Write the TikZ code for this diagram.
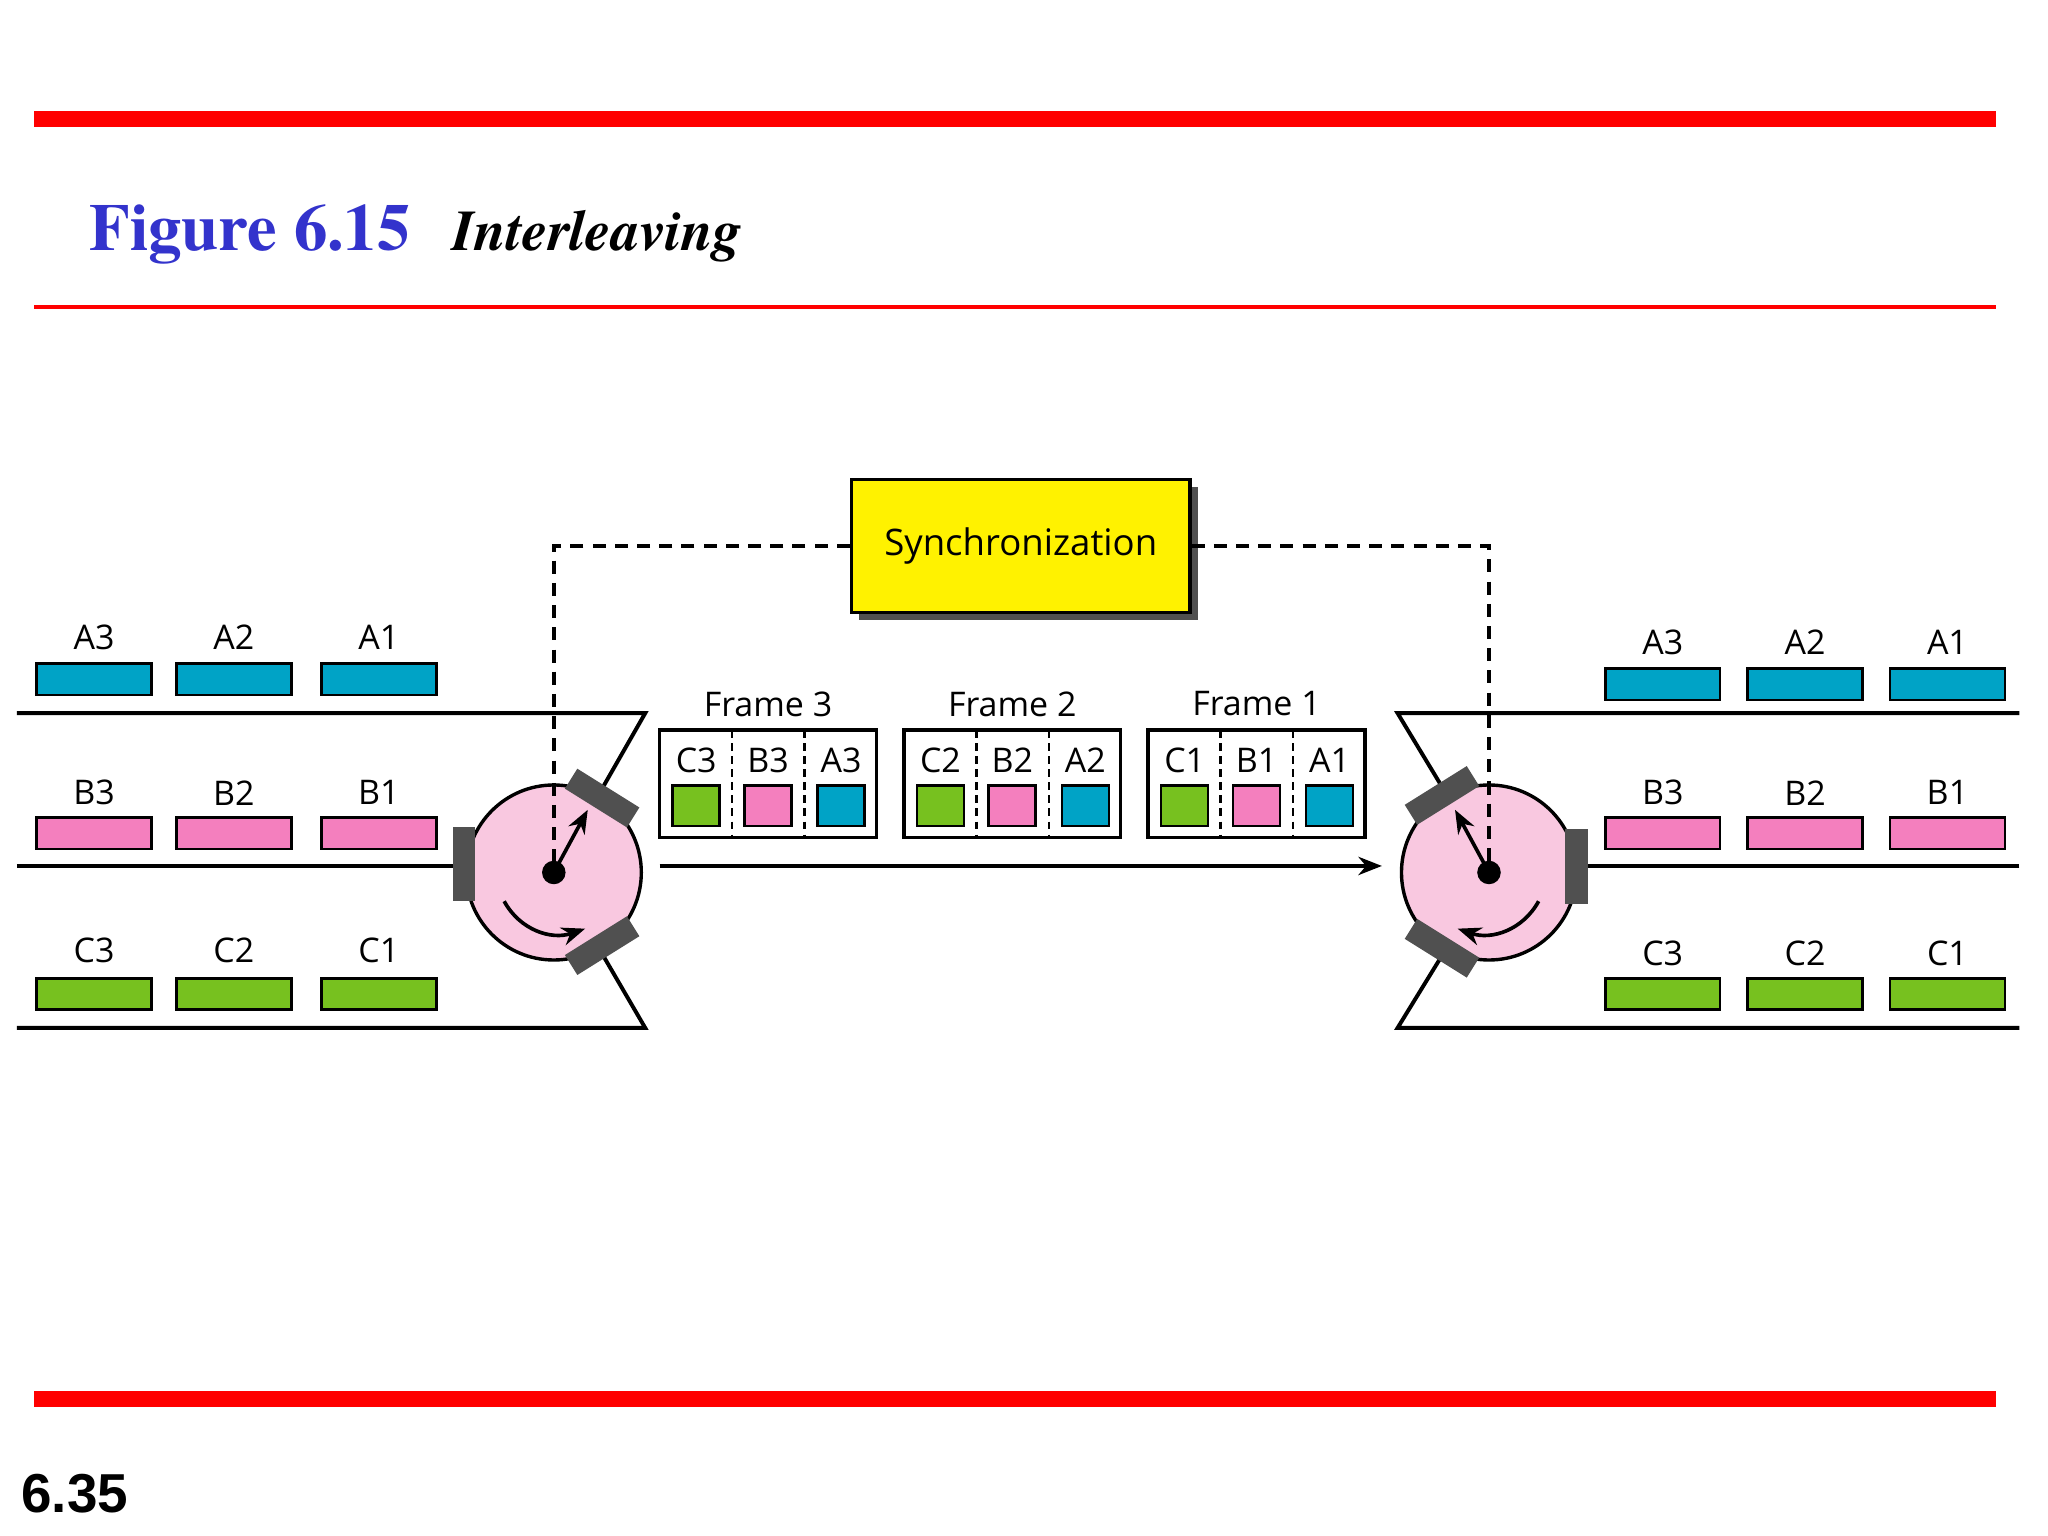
\documentclass[tikz,border=0pt]{standalone}
\usepackage{fontspec}
\setmainfont{TeX Gyre Termes}[]
\newfontfamily\lab{Open Sans}
\newfontfamily\hel{Liberation Sans}
\usetikzlibrary{arrows.meta}
\definecolor{cA}{HTML}{00A3C6}
\definecolor{cB}{HTML}{F47FBE}
\definecolor{cC}{HTML}{77C11F}
\definecolor{disk}{HTML}{F9C8E0}
\definecolor{blk}{HTML}{505050}
\definecolor{tblue}{HTML}{3333CC}
\begin{document}
\begin{tikzpicture}[x=0.5pt,y=-0.5pt,
 bar/.style={draw=black,line width=1pt,minimum width=44pt,minimum height=12pt,inner sep=0},
 lbl/.style={font=\lab\fontsize{13}{13}\selectfont,inner sep=0},
 sq/.style={draw=black,line width=1pt,minimum width=18pt,minimum height=15.5pt,inner sep=0},
 ln/.style={line width=1.5pt},
 dsh/.style={line width=1.5pt,dash pattern=on 5pt off 3.5pt},
 blkst/.style={fill=blk,minimum width=28pt,minimum height=9pt,inner sep=0},
 arr/.style={-{Stealth[length=9pt,width=7pt]},line width=1.4pt}]
\useasboundingbox (0,0) rectangle (1568,1176);
\fill[white] (0,0) rectangle (1568,1176);
% red rules
\fill[red] (26,85) rectangle (1528,97);
\fill[red] (26,233.5) rectangle (1528,236.5);
\fill[red] (26,1065) rectangle (1528,1077);
\node[anchor=base west,inner sep=0,text=tblue,font=\bfseries\fontsize{25.5}{25.5}\selectfont] (fig) at (68,192) {Figure 6.15};
\node[anchor=base west,inner sep=0,font=\bfseries\itshape\fontsize{22}{22}\selectfont] (ttl) at (346,192) {Interleaving};
\node[anchor=base west,inner sep=0,font=\hel\bfseries\fontsize{21}{21}\selectfont] (pg) at (16,1158) {6.35};
% sync
\fill[blk] (658,373) rectangle (917,475);
\node[draw=black,line width=1.3pt,fill=yellow,minimum width=129.5pt,minimum height=51pt,inner sep=0,font=\lab\fontsize{14}{14}\selectfont] (sync) at (781.5,418) {Synchronization};
\coordinate (lc) at (424,668);
\coordinate (rc) at (1140,668);
% left mux
\draw[ln] (13,546) -- (494,546) -- (462,602);
\draw[ln] (13,787) -- (494,787) -- (462,732);
\draw[ln] (13,663) -- (350,663);
\draw[line width=1.3pt,fill=disk] (lc) circle[radius=33.5pt];
\node[fill=blk,minimum width=8.5pt,minimum height=28.5pt,inner sep=0] (lb) at (355.5,661.5) {};
\node[blkst,rotate=-32] (lu) at (461,611) {};
\node[blkst,rotate=32] (ll) at (461,724) {};
\draw[dsh] (sync.west) -- (424,418) -- (lc);
\fill (lc) circle[radius=4.5pt];
\draw[arr] (lc) -- (450,620);
\draw[arr] (386,690) .. controls (398,712) and (422,720) .. (448,711);
% right demux
\draw[ln] (1546,546) -- (1070,546) -- (1105,604);
\draw[ln] (1546,787) -- (1070,787) -- (1105,730);
\draw[ln] (1546,663) -- (1212,663);
\draw[line width=1.3pt,fill=disk] (rc) circle[radius=33.5pt];
\node[fill=blk,minimum width=8.5pt,minimum height=28.5pt,inner sep=0] (rb) at (1207,663.5) {};
\node[blkst,rotate=32] (ru) at (1104,609) {};
\node[blkst,rotate=-32] (rl) at (1104,726) {};
\draw[dsh] (sync.east) -- (1140,418) -- (rc);
\fill (rc) circle[radius=4.5pt];
\draw[arr] (rc) -- (1114,620);
\draw[arr] (1178,690) .. controls (1166,712) and (1142,720) .. (1116,711);
% main link
\coordinate (ms) at (505,663);
\coordinate (me) at (1058,663);
\draw[arr] (ms) -- (me);
% channels
\foreach \x/\n in {72/3,179/2,290/1}{
 \node[bar,fill=cA] at (\x,520) {}; \node[lbl] at (\x,488) {A\n};
 \node[bar,fill=cB] at (\x,638) {}; \node[lbl] at (\x,607) {B\n};
 \node[bar,fill=cC] at (\x,761) {}; \node[lbl] at (\x,728) {C\n};
}
\foreach \x/\n in {1273/3,1382/2,1491/1}{
 \node[bar,fill=cA] at (\x,524) {}; \node[lbl] at (\x,492) {A\n};
 \node[bar,fill=cB] at (\x,638) {}; \node[lbl] at (\x,607) {B\n};
 \node[bar,fill=cC] at (\x,761) {}; \node[lbl] at (\x,730) {C\n};
}
% frames
\foreach \x/\n in {505/3,692/2,879/1}{
 \draw[line width=1.3pt] (\x,559) rectangle ++(166,82);
 \node[lbl] at (\x+83,539) {Frame \n};
 \draw[line width=1pt,dash pattern=on 3pt off 2pt] (\x+55.5,559) -- (\x+55.5,641);
 \draw[line width=1pt,dash pattern=on 3pt off 2pt] (\x+111,559) -- (\x+111,641);
 \node[lbl] at (\x+28,582) {C\n}; \node[sq,fill=cC] at (\x+28,617) {};
 \node[lbl] at (\x+83,582) {B\n}; \node[sq,fill=cB] at (\x+83,617) {};
 \node[lbl] at (\x+139,582) {A\n}; \node[sq,fill=cA] at (\x+139,617) {};
}
\end{tikzpicture}
\end{document}
